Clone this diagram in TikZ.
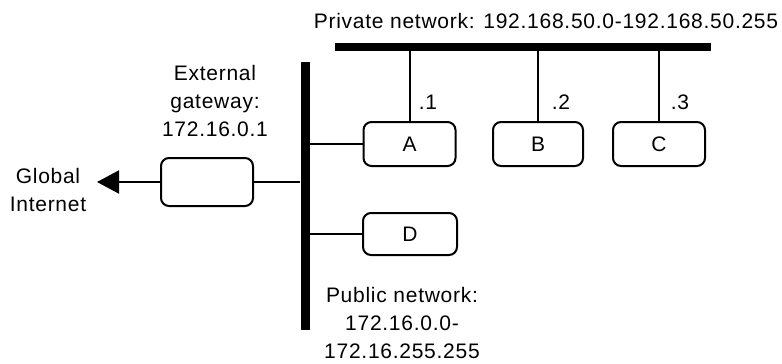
\documentclass[tikz,border=0pt]{standalone}
\usepackage{fontspec}
\setmainfont{Liberation Sans}[LetterSpace=3.5]
\usetikzlibrary{arrows.meta}
\begin{document}
\begin{tikzpicture}[x=1pt,y=-1pt,
  txt/.style={font=\fontsize{21}{28}\selectfont, inner sep=0pt, align=center},
  host/.style={draw, line width=2pt, rounded corners=8pt, minimum height=44pt, minimum width=92pt, inner sep=0pt, font=\fontsize{21}{28}\selectfont},
  bus/.style={fill=black, inner sep=0pt},
  link/.style={line width=2pt}]
\useasboundingbox (0,0) rectangle (782,364);
% buses
\node[bus, minimum width=9pt, minimum height=268pt] (pub) at (305,196) {};
\node[bus, minimum width=376pt, minimum height=8pt] (priv) at (523,47) {};
% hosts
\node[host] (A) at (409.5,144) {A};
\node[host, minimum width=90pt] (B) at (538,144) {B};
\node[host] (C) at (659,144) {C};
\node[host, minimum width=94pt, minimum height=42pt] (D) at (410,234) {D};
\node[host, minimum height=48pt] (gw) at (207,182) {};
\coordinate (tip) at (97,182);
% links
\draw[link] (pub.east |- A.west) -- (A.west);
\draw[link] (pub.east |- D.west) -- (D.west);
\draw[link] (gw.east) -- (gw.east -| pub.west);
\draw[link] (A.north) -- (A.north |- priv.south);
\draw[link] (B.north) -- (B.north |- priv.south);
\draw[link] (C.north) -- (C.north |- priv.south);
\draw[link, -{Triangle[length=22pt,width=23pt]}] (gw.west) -- (tip);
% labels
\node[txt] (l1) at (428,102) {.1};
\node[txt] (l2) at (561,102) {.2};
\node[txt] (l3) at (680,102) {.3};
\node[txt] (privlbl) at (546,21) {Private network: 192.168.50.0-192.168.50.255};
\node[txt] (gwlbl) at (215,101) {External\\gateway:\\172.16.0.1};
\node[txt] (inet) at (48,190) {Global\\Internet};
\node[txt] (publbl) at (402,323) {Public network:\\172.16.0.0-\\172.16.255.255};
\end{tikzpicture}
\end{document}
